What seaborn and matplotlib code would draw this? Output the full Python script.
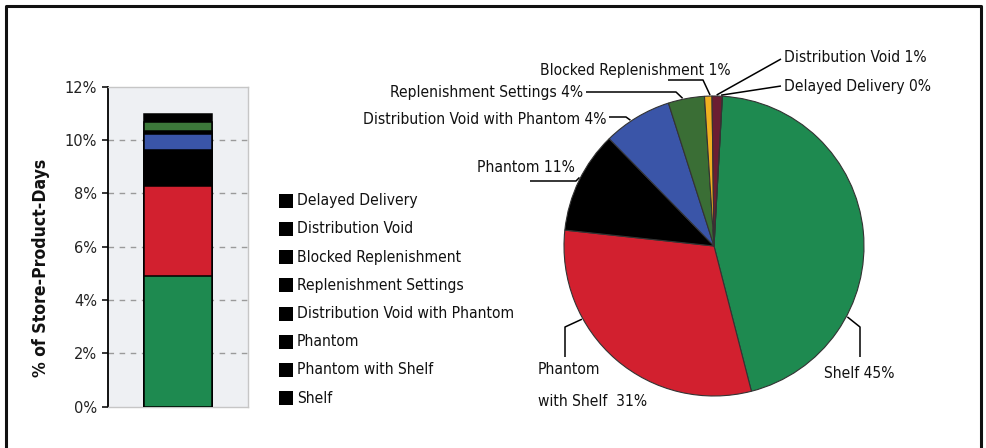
import numpy as np
import pandas as pd
import seaborn as sns
import matplotlib
matplotlib.use("Agg")
import matplotlib.pyplot as plt
from matplotlib.lines import Line2D
from matplotlib.patches import Rectangle
from matplotlib import font_manager as fm
from matplotlib.textpath import TextPath

# ---------------- data ----------------
# stacked bar (% of store-product-days), bottom -> top, as drawn
bar_segments = ["Shelf", "Phantom with Shelf", "Phantom", "Distribution Void with Phantom",
                "Blocked Replenishment", "Replenishment Settings", "Distribution Void / Delayed Delivery"]
bar_values = [4.90, 3.39, 1.33, 0.60, 0.13, 0.31, 0.31]
bar_colors = ["#1e8a50", "#d2202f", "#000000", "#3a55a8", "#000000", "#3c783a", "#000000"]

y_ticks = [0, 2, 4, 6, 8, 10, 12]
y_tick_labels = ["0%", "2%", "4%", "6%", "8%", "10%", "12%"]

legend_labels = ["Delayed Delivery", "Distribution Void", "Blocked Replenishment",
                 "Replenishment Settings", "Distribution Void with Phantom", "Phantom",
                 "Phantom with Shelf", "Shelf"]

# pie: clockwise from the top
pie_categories = ["Shelf", "Phantom with Shelf", "Phantom", "Distribution Void with Phantom",
                  "Replenishment Settings", "Blocked Replenishment", "Distribution Void",
                  "Delayed Delivery"]
pie_shares = [45.1, 30.7, 11.0, 7.4, 3.9, 0.8, 1.1, 0.0]       # wedge sizes as drawn
pie_label_pct = [45, 31, 11, 4, 4, 1, 1, 0]                     # printed percentages
pie_colors = ["#1e8a50", "#d2202f", "#000000", "#3a55a8", "#3a6e35", "#f0b020", "#6b1e32", "#6b1e32"]

# ---------------- style ----------------
sns.set_style("white")
plt.rcParams["font.family"] = ["DejaVu Sans"]
plt.rcParams["text.color"] = "#111111"


def pick_font(bold=False):
    """Prefer a condensed / narrow sans face if one is installed."""
    want_w = 700 if bold else 400
    cands = []
    for f in fm.fontManager.ttflist:
        nm = f.name.lower()
        st = str(f.stretch).lower()
        is_cond = ("narrow" in nm or "condensed" in nm or "condensed" in st
                   or (isinstance(f.stretch, (int, float)) and f.stretch < 500))
        if not is_cond or f.style != "normal":
            continue
        try:
            w = int(f.weight)
        except Exception:
            w = {"bold": 700, "normal": 400, "regular": 400, "medium": 500,
                 "semibold": 600, "light": 300}.get(str(f.weight).lower(), 400)
        cands.append((abs(w - want_w), f.fname))
    if cands:
        cands.sort()
        return fm.FontProperties(fname=cands[0][1])
    for fam in ["Liberation Sans", "Roboto", "DejaVu Sans"]:
        fp = fm.FontProperties(family=fam, weight="bold" if bold else "normal")
        try:
            fm.findfont(fp, fallback_to_default=False)
            return fp
        except Exception:
            continue
    return fm.FontProperties(weight="bold" if bold else "normal")


def size_for_width(fp, s, target_px):
    tp = TextPath((0, 0), s, size=10, prop=fp)
    w_pt = tp.get_extents().width
    return target_px / (w_pt / 10 * 100 / 72)


FP = pick_font(False)
FPB = pick_font(True)
FS = size_for_width(FP, "Distribution Void with Phantom 4%", 219 * 1.1)
FSB = size_for_width(FPB, "% of Store-Product-Days", 216)
FS_TICK = size_for_width(FP, "10%", 30)


def fprop(size, bold=False):
    p = (FPB if bold else FP).copy()
    p.set_size(size)
    return p


W, H = 987, 448
fig = plt.figure(figsize=(W / 100, H / 100), dpi=100)
fig.patch.set_facecolor("white")


def fx(x):
    return x / W


def fy(y):
    return 1 - y / H


# ---------------- bar panel ----------------
ax = fig.add_axes([fx(108), fy(406.7), 140 / W, 320 / H])
ax.set_facecolor("#eef0f3")
cum = np.cumsum(bar_values)
df = pd.DataFrame({"cat": ["all"] * len(cum), "top": cum, "seg": bar_segments})
order = list(range(len(cum) - 1, -1, -1))
for i in order:
    sns.barplot(data=df.iloc[[i]], x="cat", y="top", color=bar_colors[i], width=0.486,
                edgecolor="black", linewidth=1.1, saturation=1, ax=ax, zorder=3)
for patch, i in zip(ax.patches, order):
    patch.set_facecolor(bar_colors[i])

ax.set_ylim(0, 12)
ax.set_xlim(-0.5, 0.5)
ax.set_yticks(y_ticks)
ax.set_yticklabels(y_tick_labels, color="#222222", fontproperties=fprop(FS_TICK))
ax.set_xticks([])
ax.set_xlabel("")
ax.set_ylabel("")
ax.tick_params(axis="y", left=True, length=4, width=1.1, color="black", pad=4)
for y in y_ticks[1:-1]:
    ax.axhline(y, color="#9a9a9a", lw=1.0, ls=(0, (4, 4)), zorder=1)
for s in ["top", "right", "bottom"]:
    ax.spines[s].set_color("#c6c6c6")
    ax.spines[s].set_linewidth(1.0)
ax.spines["left"].set_color("black")
ax.spines["left"].set_linewidth(1.3)

fig.text(fx(41), fy(268), "% of Store-Product-Days", rotation=90, ha="center", va="center",
         fontproperties=fprop(FSB, True), color="#111111")

# ---------------- legend (black swatches) ----------------
for i, lab in enumerate(legend_labels):
    yc = 200.7 + i * 28.2
    fig.add_artist(Rectangle((fx(279), fy(yc + 7)), 14 / W, 14 / H, transform=fig.transFigure,
                             facecolor="black", edgecolor="none"))
    fig.text(fx(297), fy(yc), lab, ha="left", va="center", fontproperties=fprop(FS),
             color="#111111")

# ---------------- pie ----------------
cx, cy, R = 714, 246, 150
pax = fig.add_axes([fx(cx - R), fy(cy + R), 2 * R / W, 2 * R / H])
first_start = 3.2  # clockwise degrees from the top where the first wedge begins
pax.pie(pie_shares, colors=pie_colors, startangle=90 - first_start, counterclock=False,
        wedgeprops=dict(edgecolor="#333333", linewidth=0.8), normalize=True)
pax.set_xlim(-1, 1)
pax.set_ylim(-1, 1)
pax.set_aspect("auto")
pax.axis("off")


def anchor(theta):
    t = np.deg2rad(theta)
    return cx + (R + 1) * np.sin(t), cy - (R + 1) * np.cos(t)


def leader(theta, pts):
    ax0, ay0 = anchor(theta)
    xs = [ax0] + [p[0] for p in pts]
    ys = [ay0] + [p[1] for p in pts]
    fig.add_artist(Line2D([fx(x) for x in xs], [fy(y) for y in ys], transform=fig.transFigure,
                          color="black", lw=1.1, solid_capstyle="butt"))


def label(x, y, s, ha):
    fig.text(fx(x), fy(y), s, ha=ha, va="center", fontproperties=fprop(FS), color="#111111")


lab = {c: f"{c} {p}%" for c, p in zip(pie_categories, pie_label_pct)}

leader(1.0, [(781, 59)])
label(784, 58, lab["Distribution Void"], "left")
leader(2.7, [(781, 86)])
label(784, 86, lab["Delayed Delivery"], "left")
leader(358.5, [(703, 80), (668, 80)])
label(635, 70, lab["Blocked Replenishment"], "center")
leader(348.0, [(676, 92), (586, 92)])
label(583, 92, lab["Replenishment Settings"], "right")
leader(326.4, [(626, 117), (609, 117)])
label(607, 119, lab["Distribution Void with Phantom"], "right")
leader(297.0, [(576, 181), (530, 181)])
label(575, 167, lab["Phantom"], "right")
leader(241.0, [(565, 327), (565, 357)])
label(538, 370, "Phantom", "left")
label(538, 401, f"with Shelf  {pie_label_pct[1]}%", "left")
leader(118.0, [(860, 327), (860, 357)])
label(859, 373, lab["Shelf"], "center")

# ---------------- outer frame ----------------
frame_x = [fx(6), fx(6), fx(981.5), fx(981.5)]
frame_y = [0, fy(6.5), fy(6.5), 0]
fig.add_artist(Line2D(frame_x, frame_y, transform=fig.transFigure, color="#111111", lw=2.2))

fig.savefig("out.png", dpi=100, facecolor="white")
